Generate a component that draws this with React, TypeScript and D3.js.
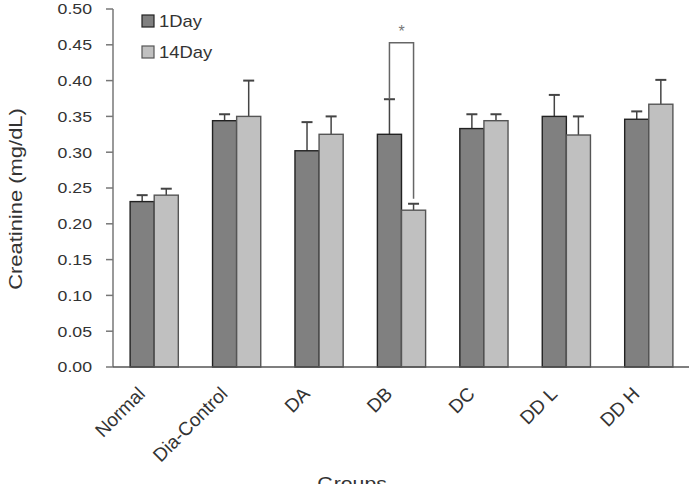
import React from "react";
import * as d3 from "d3";

const groups = ["Normal", "Dia-Control", "DA", "DB", "DC", "DD L", "DD H"];
const seriesNames = ["1Day", "14Day"];
const day1 = [0.231, 0.344, 0.302, 0.325, 0.333, 0.35, 0.346];
const day1Err = [0.009, 0.009, 0.04, 0.049, 0.02, 0.03, 0.011];
const day14 = [0.24, 0.35, 0.325, 0.219, 0.344, 0.324, 0.367];
const day14Err = [0.009, 0.05, 0.025, 0.009, 0.009, 0.026, 0.034];
const yTicks = [0, 0.05, 0.1, 0.15, 0.2, 0.25, 0.3, 0.35, 0.4, 0.45, 0.5];
const sigGroup = "DB";
const sigTop = 0.453;

const W = 689;
const H = 484;
const FONT = "'Liberation Sans', Arial, sans-serif";
const fills = ["#808080", "#c0c0c0"];
const strokes = ["#222", "#555"];

export default function App() {
  const y = d3.scaleLinear().domain([0, 0.5]).range([367, 9]);
  const x0 = d3.scaleBand<string>().domain(groups).range([113, 690]);
  const x1 = d3
    .scaleBand<string>()
    .domain(seriesNames)
    .range([0, x0.bandwidth()])
    .paddingOuter(0.71);
  const vals = [day1, day14];
  const errs = [day1Err, day14Err];
  const bw = x1.bandwidth();

  const di = groups.indexOf(sigGroup);
  const bxL = (x0(sigGroup) as number) + (x1("1Day") as number) + bw / 2;
  const bxR = (x0(sigGroup) as number) + (x1("14Day") as number) + bw / 2;
  const bTop = y(sigTop);
  const bL = y(day1[di] + day1Err[di]);
  const bR = y(day14[di] + day14Err[di]) - 5;

  return (
    <svg width={W} height={H} style={{ position: "absolute", left: 0, top: 0, background: "#fff" }}>
      <rect x={0} y={0} width={W} height={H} fill="#fff" />
      {/* y axis */}
      <line x1={113} x2={113} y1={y(0)} y2={y(0.5)} stroke="#777" strokeWidth={1.5} />
      {yTicks.map((t) => (
        <g key={t}>
          <line x1={106} x2={113} y1={y(t)} y2={y(t)} stroke="#777" strokeWidth={1.5} />
          <text
            transform={`translate(92,${y(t)}) scale(1.18,1)`}
            textAnchor="end"
            dy="0.36em"
            fontFamily={FONT}
            fontSize={15}
            fill="#333"
          >
            {t.toFixed(2)}
          </text>
        </g>
      ))}
      {/* bars */}
      {groups.map((g, gi) =>
        seriesNames.map((s, si) => {
          const bx = (x0(g) as number) + (x1(s) as number);
          const v = vals[si][gi];
          const e = errs[si][gi];
          const cx = bx + bw / 2;
          return (
            <g key={g + s}>
              <line x1={cx} x2={cx} y1={y(v)} y2={y(v + e)} stroke="#444" strokeWidth={1.5} />
              <line x1={cx - 5.5} x2={cx + 5.5} y1={y(v + e)} y2={y(v + e)} stroke="#444" strokeWidth={2} />
              <rect
                x={bx}
                y={y(v)}
                width={bw}
                height={y(0) - y(v)}
                fill={fills[si]}
                stroke={strokes[si]}
                strokeWidth={1.4}
              />
            </g>
          );
        })
      )}
      {/* x axis */}
      <line x1={113} x2={690} y1={y(0)} y2={y(0)} stroke="#555" strokeWidth={1.5} />
      {/* significance bracket */}
      <path
        d={`M${bxL},${bL}V${bTop}H${bxR}V${bR}`}
        fill="none"
        stroke="#666"
        strokeWidth={1.5}
      />
      <text
        x={(bxL + bxR) / 2}
        y={bTop - 6}
        textAnchor="middle"
        fontFamily={FONT}
        fontSize={16}
        fill="#777"
      >
        *
      </text>
      {/* x labels */}
      {groups.map((g) => {
        const cx = (x0(g) as number) + x0.bandwidth() / 2;
        return (
          <text
            key={g}
            transform={`translate(${cx - 8},${395}) rotate(-45)`}
            textAnchor="end"
            fontFamily={FONT}
            fontSize={19}
            fill="#333"
          >
            {g}
          </text>
        );
      })}
      {/* axis titles */}
      <text
        transform={`translate(352,490) scale(1.18,1)`}
        textAnchor="middle"
        fontFamily={FONT}
        fontSize={18}
        fill="#333"
      >
        Groups
      </text>
      <text
        transform={`translate(22,199) rotate(-90) scale(1.22,1)`}
        textAnchor="middle"
        fontFamily={FONT}
        fontSize={18}
        fill="#333"
      >
        Creatinine (mg/dL)
      </text>
      {/* legend */}
      {seriesNames.map((s, i) => (
        <g key={s}>
          <rect x={142} y={15 + i * 31} width={12} height={12} fill={fills[i]} stroke={strokes[i]} strokeWidth={1.2} />
          <text
            transform={`translate(159,${27 + i * 31}) scale(1.15,1)`}
            fontFamily={FONT}
            fontSize={16}
            fill="#333"
          >
            {s}
          </text>
        </g>
      ))}
    </svg>
  );
}
